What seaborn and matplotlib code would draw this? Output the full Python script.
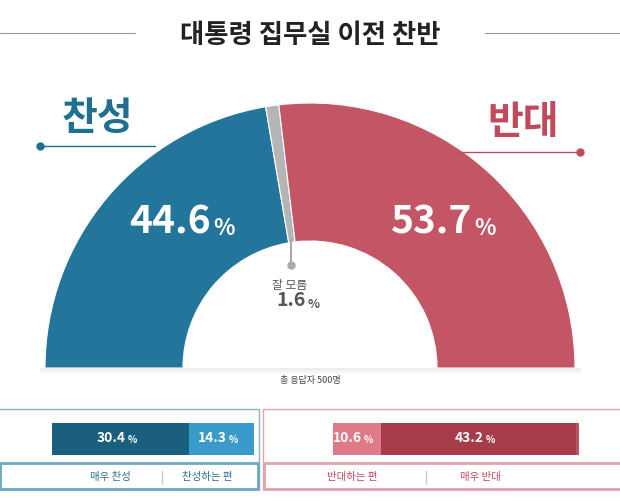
import matplotlib
matplotlib.use("Agg")
import matplotlib.pyplot as plt
import seaborn as sns
from matplotlib.patches import Wedge, Rectangle

sns.set_theme(style="white")
plt.rcParams['font.family'] = ['Noto Sans CJK KR', 'DejaVu Sans']

title = "대통령 집무실 이전 찬반"
main_labels = ["찬성", "잘 모름", "반대"]
main_values = [44.6, 1.6, 53.7]
main_colors = ["#23759c", "#b5b5b5", "#c45565"]
pro_labels = ["매우 찬성", "찬성하는 편"]
pro_values = [30.4, 14.3]
pro_colors = ["#1a5f7e", "#3a9ac9"]
con_labels = ["반대하는 편", "매우 반대"]
con_values = [10.6, 43.2]
con_colors = ["#e07a88", "#a63b4a"]
note = "총 응답자 500명"

W, H = 620, 501
fig = plt.figure(figsize=(W/100, H/100), dpi=100)
ax = fig.add_axes([0, 0, 1, 1])
ax.set_xlim(0, W); ax.set_ylim(H, 0); ax.axis("off")

ax.text(310, 35, title, ha="center", va="center", fontsize=19, fontweight="bold", color="#222")
ax.plot([0, 135], [33, 33], color="#999", lw=0.8)
ax.plot([485, 620], [33, 33], color="#999", lw=0.8)

cx, cy, R, r = 310, 368, 265, 127
total = sum(main_values)
start = 180.0
for v, c in zip(main_values, main_colors):
    sweep = 180.0 * v / total
    ax.add_patch(Wedge((cx, cy), R, -start, -start + sweep, width=R - r, facecolor=c, edgecolor="white", lw=0.8))
    start -= sweep
for i in range(6):
    ax.plot([40, 580], [368 + i, 368 + i], color="#888", alpha=0.12 * (6 - i) / 6, lw=1)

def pct(x, y, val, fs, pfs, color):
    ax.text(x, y, f"{val}", ha="right", va="center", fontsize=fs, fontweight="bold", color=color)
    ax.text(x + 2, y + fs * 0.22, "%", ha="left", va="center", fontsize=pfs, fontweight="bold", color=color)

pct(211, 222, main_values[0], 28, 16, "white")
pct(472, 222, main_values[2], 28, 16, "white")

ax.plot([291, 291], [240, 265], color="#aaa", lw=1.5)
ax.plot(291, 265, "o", color="#aaa", ms=5)
ax.text(290, 285, main_labels[1], ha="center", va="center", fontsize=8.5, color="#555")
pct(306, 301, main_values[1], 14, 9, "#555")

ax.text(97, 118, main_labels[0], ha="center", va="center", fontsize=28, fontweight="bold", color="#1f7090")
ax.plot([40, 155], [146, 146], color="#1f7090", lw=1)
ax.plot(40, 146, "o", color="#1f7090", ms=5)
ax.text(523, 122, main_labels[2], ha="center", va="center", fontsize=28, fontweight="bold", color="#c04a5c")
ax.plot([460, 580], [152, 152], color="#c04a5c", lw=1)
ax.plot(580, 152, "o", color="#c04a5c", ms=5)

ax.text(310, 380, note, ha="center", va="center", fontsize=6.5, color="#444")

ax.add_patch(Rectangle((-2, 409), 261, 80, fill=False, edgecolor="#8fb2c4", lw=1))
ax.add_patch(Rectangle((0, 463), 258, 26, fill=False, edgecolor="#6da8c4", lw=2))
ax.add_patch(Rectangle((263, 409), 360, 80, fill=False, edgecolor="#e3a3ad", lw=1))
ax.add_patch(Rectangle((264, 463), 358, 26, fill=False, edgecolor="#e3a3ad", lw=2))
ax.plot([162, 162], [471, 484], color="#ccc", lw=1)
ax.plot([426, 426], [471, 484], color="#ccc", lw=1)

scale = 4.52
def stacked(x0, vals, cols):
    left = x0
    for v, c in zip(vals, cols):
        w = v * scale
        ax.barh(439, w, height=32, left=left, color=c, edgecolor="none")
        pct(left + w / 2 + 5, 438, v, 10, 7, "white")
        left += w
    return left

stacked(52, pro_values, pro_colors)
end = stacked(333, con_values, con_colors)
ax.barh(439, 3, height=32, left=end, color="#b85662", edgecolor="none")

ax.text(110, 477, pro_labels[0], ha="center", va="center", fontsize=7.5, color="#2b6f8f")
ax.text(207, 477, pro_labels[1], ha="center", va="center", fontsize=7.5, color="#2b6f8f")
ax.text(352, 477, con_labels[0], ha="center", va="center", fontsize=7.5, color="#c04a5c")
ax.text(480, 477, con_labels[1], ha="center", va="center", fontsize=7.5, color="#c04a5c")

fig.savefig("out.png", dpi=100)
